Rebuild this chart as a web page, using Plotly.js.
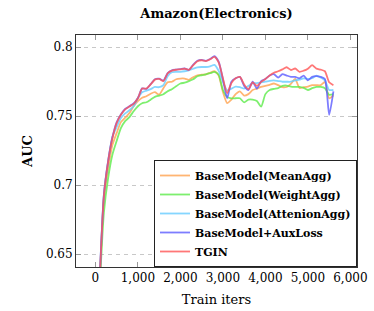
<!DOCTYPE html>
<html>
<head>
<meta charset="utf-8">
<script src="https://cdn.plot.ly/plotly-3.0.1.min.js"></script>
<style>html,body{margin:0;padding:0;background:#fff}#chart{width:374px;height:311px}</style>
</head>
<body>
<div id="chart"></div>
<script>
const iters = [100,200,300,400,500,600,700,800,900,1000,1100,1200,1300,1400,1500,1600,1700,1800,1900,2000,2100,2200,2300,2400,2500,2600,2700,2800,2900,3000,3100,3200,3300,3400,3500,3600,3700,3800,3900,4000,4100,4200,4300,4400,4500,4600,4700,4800,4900,5000,5100,5200,5300,5400,5500,5600];

const meanAgg = [0.628,0.690,0.712,0.729,0.7377,0.7457,0.7489,0.7522,0.7572,0.7609,0.7634,0.7645,0.7663,0.7674,0.7656,0.7703,0.7746,0.775,0.7768,0.7773,0.7773,0.7764,0.7783,0.7797,0.7801,0.7804,0.7815,0.7826,0.7795,0.7676,0.7595,0.762,0.766,0.768,0.765,0.766,0.769,0.770,0.7712,0.772,0.7728,0.7737,0.7725,0.771,0.7712,0.7735,0.777,0.7705,0.771,0.7715,0.7725,0.7725,0.7725,0.7748,0.763,0.7652];

const weightAgg = [0.624,0.680,0.705,0.722,0.732,0.7413,0.7464,0.7493,0.7536,0.7572,0.7594,0.7601,0.762,0.764,0.7649,0.7659,0.7681,0.7696,0.7717,0.7737,0.7743,0.7754,0.7768,0.779,0.7797,0.7804,0.7812,0.7821,0.7800,0.769,0.764,0.763,0.763,0.763,0.760,0.762,0.762,0.761,0.757,0.766,0.769,0.7698,0.7703,0.772,0.7722,0.7714,0.7712,0.7712,0.7705,0.769,0.7703,0.7712,0.7712,0.7703,0.7655,0.766];

const attentionAgg = [0.631,0.693,0.717,0.735,0.742,0.7486,0.752,0.7543,0.7572,0.763,0.7674,0.7685,0.7696,0.7712,0.771,0.7725,0.779,0.7819,0.7822,0.7822,0.7826,0.7833,0.7844,0.7855,0.7857,0.7857,0.7862,0.7873,0.783,0.7749,0.7688,0.770,0.7714,0.771,0.770,0.772,0.774,0.774,0.7745,0.775,0.7757,0.776,0.7755,0.775,0.775,0.775,0.776,0.7765,0.7775,0.777,0.7775,0.7795,0.778,0.776,0.769,0.769];

const auxLoss = [0.631,0.693,0.7175,0.7345,0.7455,0.7512,0.7552,0.7572,0.7592,0.7632,0.7702,0.7698,0.7732,0.7768,0.7772,0.7758,0.7812,0.7833,0.7838,0.7842,0.7846,0.7836,0.7872,0.7902,0.7908,0.7902,0.7915,0.7935,0.7895,0.777,0.763,0.775,0.7775,0.7785,0.772,0.769,0.775,0.770,0.7755,0.777,0.7795,0.7805,0.778,0.7805,0.7795,0.7786,0.7785,0.7775,0.7795,0.776,0.7785,0.779,0.7785,0.777,0.751,0.768];

const tgin = [0.630,0.692,0.717,0.734,0.745,0.751,0.755,0.757,0.759,0.763,0.770,0.770,0.773,0.7765,0.777,0.7755,0.781,0.783,0.7837,0.784,0.7844,0.7837,0.787,0.7899,0.7906,0.790,0.7913,0.793,0.789,0.7775,0.7667,0.774,0.7775,0.7785,0.773,0.7695,0.7745,0.772,0.7749,0.777,0.7795,0.7815,0.7826,0.784,0.7855,0.7835,0.7846,0.7822,0.783,0.7845,0.787,0.7845,0.7838,0.7826,0.7746,0.7725];

const seriesNames = ['BaseModel(MeanAgg)','BaseModel(WeightAgg)','BaseModel(AttenionAgg)','BaseModel+AuxLoss','TGIN'];
const seriesValues = [meanAgg, weightAgg, attentionAgg, auxLoss, tgin];
const seriesColors = ['#FFA24F','#5CEB4A','#66CCFF','#5C5CFF','#FF5555'];

const xTickVals = [0,1000,2000,3000,4000,5000,6000];
const yTickVals = [0.65,0.7,0.75,0.8];

const traces = seriesNames.map((name, i) => ({
  x: iters,
  y: seriesValues[i],
  name: name,
  type: 'scatter',
  mode: 'lines',
  line: {color: seriesColors[i], width: 1.8, shape: 'spline', smoothing: 0.6},
  opacity: 0.8
}));

const serif = 'DejaVu Serif, Liberation Serif, serif';

const layout = {
  width: 374, height: 311,
  margin: {l: 76, r: 17, t: 35, b: 44},
  paper_bgcolor: '#fff', plot_bgcolor: '#fff',
  showlegend: true,
  title: {text: 'Amazon(Electronics)', font: {family: serif, size: 13, weight: 'bold', color: '#000'},
          x: 0.5, xref: 'paper', y: 0.958, yref: 'container', yanchor: 'middle'},
  xaxis: {
    range: [-456, 6155],
    tickvals: xTickVals, tickformat: ',',
    ticks: 'inside', ticklen: 5, tickcolor: '#999',
    showline: true, linecolor: '#333', linewidth: 1, mirror: 'ticks',
    showgrid: false, zeroline: false,
    tickfont: {family: serif, size: 12, color: '#000'},
    title: {text: 'Train iters', font: {family: serif, size: 13, color: '#000'}, standoff: 10}
  },
  yaxis: {
    range: [0.6406, 0.8089],
    tickvals: yTickVals,
    ticks: 'inside', ticklen: 5, tickcolor: '#999',
    showline: true, linecolor: '#333', linewidth: 1, mirror: 'ticks',
    showgrid: true, gridcolor: '#c8c8c8', griddash: '4px,4px', gridwidth: 1,
    zeroline: false,
    tickfont: {family: serif, size: 12, color: '#000'},
    title: {text: 'AUC', font: {family: serif, size: 13, weight: 'bold', color: '#000'}, standoff: 10}
  },
  legend: {
    x: 1, xanchor: 'right', y: 0, yanchor: 'bottom',
    bgcolor: '#fff', bordercolor: '#222', borderwidth: 1,
    font: {family: serif, size: 11, weight: 'bold', color: '#000'},
    tracegroupgap: 0, itemwidth: 30
  }
};

Plotly.newPlot('chart', traces, layout, {displayModeBar: false, staticPlot: true});
</script>
</body>
</html>
